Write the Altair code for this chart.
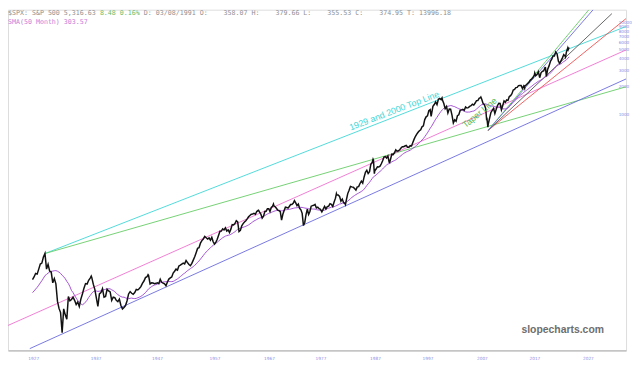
import altair as alt
import pandas as pd

# ---------------- data ----------------
# S&P 500 quarter-end closes, starting with Q2 1923
first_year = 1923
first_quarter = 2
spx_q = [
    8.9, 8.9, 9.3,
    8.8, 9.0, 9.7, 10.5,
    11.6, 11.9, 12.6, 13.3,
    12.5, 13.1, 13.6, 13.5,
    14.0, 14.6, 16.6, 17.7,
    19.3, 19.0, 21.5, 24.4,
    25.0, 29.0, 31.7, 21.5,
    24.3, 20.5, 20.0, 15.3,
    17.0, 14.9, 9.7, 8.1,
    7.3, 4.43, 8.0, 6.9,
    6.2, 10.9, 9.8, 10.1,
    10.7, 9.9, 8.9, 9.5,
    8.5, 10.2, 11.6, 13.4,
    15.0, 14.8, 16.3, 17.2,
    17.5, 14.8, 13.0, 10.5,
    8.5, 11.6, 12.0, 13.2,
    10.7, 10.9, 13.0, 12.5,
    12.2, 9.9, 10.7, 10.6,
    9.9, 9.6, 10.2, 8.7,
    8.0, 8.3, 8.7, 9.8,
    11.6, 12.3, 11.8, 11.5,
    12.0, 13.0, 12.8, 13.3,
    13.9, 15.1, 16.0, 17.4,
    17.8, 18.4, 14.9, 15.3,
    15.2, 15.0, 15.1, 15.3,
    15.0, 16.7, 15.5, 15.2,
    14.9, 14.2, 15.6, 16.8,
    17.3, 17.7, 19.5, 20.4,
    21.5, 21.0, 23.3, 23.8,
    24.4, 25.0, 24.5, 26.6,
    25.3, 24.1, 23.4, 24.8,
    26.9, 29.2, 32.3, 36.0,
    36.6, 41.0, 43.7, 45.5,
    48.5, 47.0, 45.4, 46.7,
    44.1, 47.4, 42.4, 40.0,
    42.1, 45.2, 50.0, 55.2,
    55.4, 58.5, 56.9, 59.9,
    55.3, 56.9, 53.5, 58.1,
    65.1, 64.6, 66.7, 71.6,
    69.6, 54.8, 56.3, 63.1,
    66.6, 69.4, 71.7, 75.0,
    79.0, 81.7, 84.2, 84.8,
    86.2, 84.1, 90.0, 92.4,
    89.2, 84.7, 76.6, 80.3,
    90.2, 90.6, 96.7, 96.5,
    90.2, 99.6, 102.7, 103.9,
    101.5, 97.7, 93.1, 92.1,
    89.6, 72.7, 84.2, 92.2,
    100.3, 99.7, 98.3, 102.1,
    107.2, 107.1, 110.6, 118.1,
    111.5, 104.3, 108.4, 97.6,
    94.0, 86.0, 63.5, 68.6,
    83.4, 95.2, 83.9, 90.2,
    102.8, 104.3, 105.2, 107.5,
    98.4, 100.5, 96.5, 95.1,
    89.2, 95.5, 102.5, 96.1,
    101.6, 102.9, 109.3, 107.9,
    102.1, 114.2, 125.5, 135.8,
    136.0, 131.2, 116.2, 122.6,
    112.0, 109.6, 120.4, 140.6,
    153.0, 168.1, 166.1, 164.9,
    159.2, 153.2, 166.1, 167.2,
    180.7, 191.9, 182.1, 211.3,
    238.9, 250.8, 231.3, 242.2,
    291.7, 304.0, 321.8, 247.1,
    258.9, 273.5, 271.9, 277.7,
    294.9, 318.0, 349.2, 353.4,
    339.9, 358.0, 306.1, 330.2,
    375.2, 371.2, 387.9, 417.1,
    403.7, 408.1, 417.8, 435.7,
    451.7, 450.5, 458.9, 466.5,
    445.8, 444.3, 462.7, 459.3,
    500.7, 544.8, 584.4, 615.9,
    645.5, 670.6, 687.3, 740.7,
    757.1, 885.1, 947.3, 970.4,
    1101.8, 1133.8, 1017.0, 1229.2,
    1286.4, 1372.7, 1282.7, 1469.3,
    1498.6, 1454.6, 1436.5, 1320.3,
    1160.3, 1224.4, 1040.9, 1148.1,
    1147.4, 989.8, 815.3, 879.8,
    848.2, 974.5, 996.0, 1111.9,
    1126.2, 1140.8, 1114.6, 1211.9,
    1180.6, 1191.3, 1228.8, 1248.3,
    1294.8, 1270.2, 1335.9, 1418.3,
    1420.9, 1503.4, 1526.8, 1468.4,
    1322.7, 1280.0, 1166.4, 903.3,
    797.9, 919.3, 1057.1, 1115.1,
    1169.4, 1030.7, 1141.2, 1257.6,
    1325.8, 1320.6, 1131.4, 1257.6,
    1408.5, 1362.2, 1440.7, 1426.2,
    1569.2, 1606.3, 1681.6, 1848.4,
    1872.3, 1960.2, 1972.3, 2058.9,
    2067.9, 2063.1, 1920.0, 2043.9,
    2059.7, 2098.9, 2168.3, 2238.8,
    2362.7, 2423.4, 2519.4, 2673.6,
    2640.9, 2718.4, 2914.0, 2506.9,
    2834.4, 2941.8, 2976.7, 3230.8,
    2584.6, 3100.3, 3363.0, 3756.1,
    3972.9, 4297.5, 4307.5, 4766.2,
    4530.4, 3785.4, 3585.6, 3839.5,
    4109.3, 4450.4, 4288.1, 4769.8,
    5254.4, 5316.6,
]
# extra month-end turning points drawn in the price line only
extra_t = [1937.17, 1946.42, 1966.08, 1968.92, 1973.08, 1980.92, 1982.58, 1987.67,
           1987.92, 1990.83, 1998.67, 2000.67, 2007.83, 2008.92, 2009.17, 2016.17,
           2018.08, 2020.08, 2023.83, 2024.33]
extra_v = [18.1, 18.7, 92.9, 108.4, 116.0, 140.5, 107.1, 329.8,
           230.3, 304.0, 957.3, 1517.7, 1549.4, 896.2, 735.1, 1932.2,
           2823.8, 3225.5, 4193.8, 5035.7]

display_start = 1927.75
sma_quarters = 17  # ~50 months

# trend lines: start (year, value) -> end (year, value)
line_names = ["top", "green", "support", "pink", "red", "black", "fan_green", "fan_blue"]
line_colors = ["#3fd6d6", "#66cc66", "#6a6ae0", "#f070d0", "#f05050", "#555555", "#66cc66", "#6a6ae0"]
line_x0 = [1929.75, 1929.75, 1927.32, 1923.83, 2009.2, 2009.2, 2009.2, 2009.2]
line_y0 = [31.7, 31.7, 2.98, 5.3, 676, 676, 676, 676]
line_x1 = [2035.15, 2035.15, 2035.15, 2035.15, 2035.15, 2032.5, 2028.2, 2029.0]
line_y1 = [8950, 2000, 2430, 5000, 10900, 12330, 13600, 13600]

# the time axis follows trading days (6-day weeks before the 1950s)
axis_years = [1923.83, 1927, 1937, 1947, 1957, 1967, 1977, 1987, 1997, 2007, 2017, 2027, 2035.15]
axis_pixels = [0, 20, 83, 145, 203, 258, 310, 365, 418, 473, 526, 580, 624]

x_ticks = [1927, 1937, 1947, 1957, 1967, 1977, 1987, 1997, 2007, 2017, 2027]
y_ticks = [1000, 2000, 3000, 4000, 5000, 6000, 7000, 8000, 9000, 10000]

# ---------------- frames ----------------
rows = []
for i, v in enumerate(spx_q):
    qi = (first_quarter - 1) + i
    rows.append({"t": first_year + (qi + 1) * 0.25, "close": v})
price_df = pd.DataFrame(rows)
line_df = pd.concat([price_df, pd.DataFrame({"t": extra_t, "close": extra_v})]).sort_values("t")
line_df = line_df[line_df["t"] >= display_start]

lines_df = pd.DataFrame(
    [{"name": n, "t": a, "v": b} for n, a, b in zip(line_names, line_x0, line_y0)]
    + [{"name": n, "t": a, "v": b} for n, a, b in zip(line_names, line_x1, line_y1)]
)

W, H = 624, 344
xs = alt.Scale(domain=axis_years, range=axis_pixels, nice=False, zero=False)
ys = alt.Scale(type="log", domain=[2.85, 13600], nice=False)

x_axis = alt.Axis(values=x_ticks, format="d", grid=False, ticks=False,
                  domainColor="#aaaaaa", labelColor="#8c8ce6", labelFontSize=4.3,
                  labelAlign="left", labelPadding=6, title=None, labelFont="DejaVu Sans")
y_axis = alt.Axis(orient="right", values=y_ticks, format="d", grid=False, ticks=False,
                  domain=False, labelColor="#8c8ce6", labelFontSize=4.2, labelOverlap=False,
                  offset=-8, labelPadding=0, title=None, labelFont="DejaVu Sans")

trend = alt.Chart(lines_df).mark_line(strokeWidth=0.9, clip=True).encode(
    x=alt.X("t:Q", scale=xs, axis=x_axis),
    y=alt.Y("v:Q", scale=ys, axis=y_axis),
    color=alt.Color("name:N", scale=alt.Scale(domain=line_names, range=line_colors), legend=None),
    detail="name:N",
)

sma = alt.Chart(price_df).transform_window(
    sma="mean(close)", frame=[-(sma_quarters - 1), 0], sort=[alt.SortField("t")]
).transform_filter(alt.datum.t >= display_start).mark_line(
    color="#9a3fcf", strokeWidth=0.9, clip=True
).encode(x=alt.X("t:Q", scale=xs), y=alt.Y("sma:Q", scale=ys))

price = alt.Chart(line_df).mark_line(
    color="#111111", strokeWidth=1.5, clip=True
).encode(x=alt.X("t:Q", scale=xs), y=alt.Y("close:Q", scale=ys), order="t:Q")

# annotations (placed in data space)
ann_df = pd.DataFrame([
    {"t": 1991.7, "v": 1104, "txt": "1929 and 2000 Top Line"},
    {"t": 2007.6, "v": 1050, "txt": "Taper Line"},
])
ann1 = alt.Chart(ann_df.iloc[[0]]).mark_text(fontSize=9, font="Liberation Sans", angle=339, color="#3fd6d6").encode(
    x=alt.X("t:Q", scale=xs), y=alt.Y("v:Q", scale=ys), text="txt:N")
ann2 = alt.Chart(ann_df.iloc[[1]]).mark_text(fontSize=9, font="Liberation Sans", angle=320, color="#55bb55").encode(
    x=alt.X("t:Q", scale=xs), y=alt.Y("v:Q", scale=ys), text="txt:N")

# header text
mono = "DejaVu Sans Mono"
fs = 6.7
cw = fs * 0.602
NB = "\u00a0"
head_a = "$SPX: S&P 500 5,316.63"
head_b = "8.48 0.16%"
head_c = ("D: 03/08/1991 O:" + NB * 4 + "358.07 H:" + NB * 4 + "379.66 L:" + NB * 4
          + "355.53 C:" + NB * 4 + "374.95 T: 13996.18")
sma_txt = "SMA(50 Month) 303.57"

def htext(txt, x, y, color):
    return alt.Chart(pd.DataFrame({"txt": [txt]})).mark_text(
        font=mono, fontSize=fs, align="left", baseline="top", color=color
    ).encode(x=alt.value(x), y=alt.value(y), text="txt:N")

h1 = htext(head_a, 0, 0, "#909090")
h2 = htext(head_b, (len(head_a) + 1) * cw, 0, "#66bb66")
h3 = htext(head_c, (len(head_a) + len(head_b) + 2) * cw, 0, "#909090")
h4 = htext(sma_txt, 0, 9, "#c878d8")

wm = alt.Chart(pd.DataFrame({"txt": ["slopecharts.com"]})).mark_text(
    font="Liberation Sans", fontSize=10.5, fontWeight="bold", color="#6e6e6e", align="center"
).encode(x=alt.value(560), y=alt.value(323), text="txt:N")

chart = alt.layer(trend, sma, price, ann1, ann2, h1, h2, h3, h4, wm).properties(
    width=W, height=H, padding=0
).configure_view(stroke=None).configure(background="white")

chart.save("out.html", embed_options={"renderer": "svg", "actions": False})
